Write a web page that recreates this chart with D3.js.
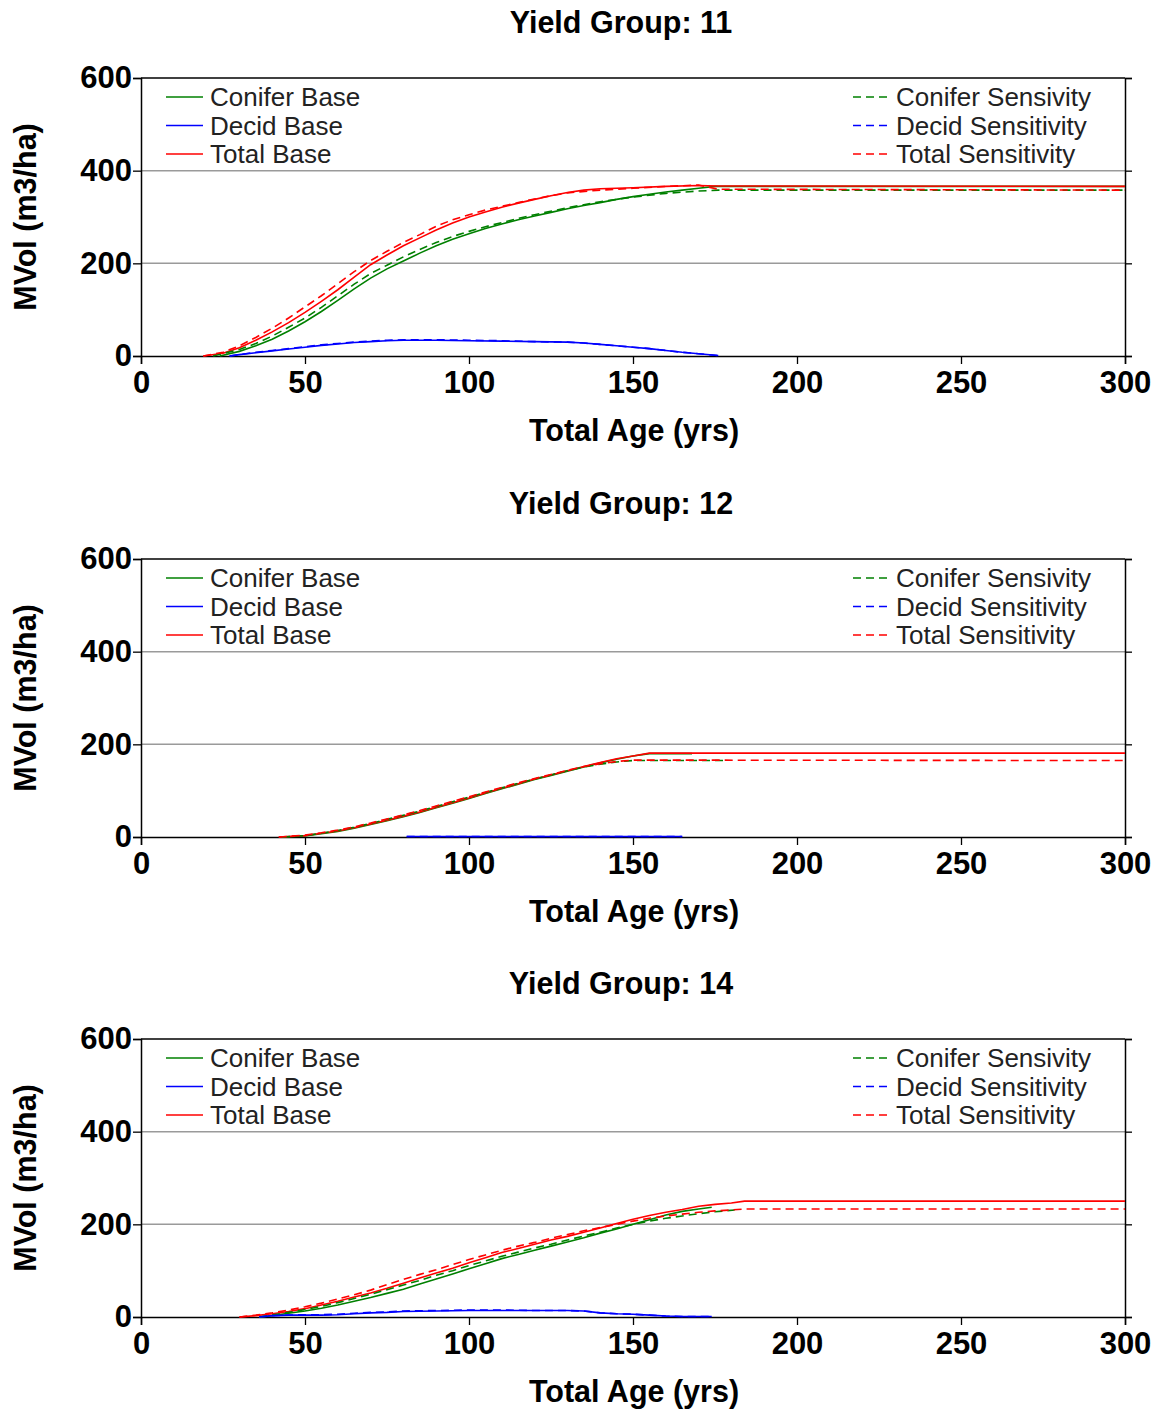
<!DOCTYPE html>
<html><head><meta charset="utf-8">
<script src="https://cdn.jsdelivr.net/npm/d3@7"></script>
<style>body{margin:0;background:#fff}svg{display:block}</style>
</head><body>
<script>
// ---------- DATA ----------
const groups = ["11", "12", "14"];
const seriesNames = ["Conifer Base","Decid Base","Total Base","Conifer Sensivity","Decid Sensitivity","Total Sensitivity"];
const xTicks = [0,50,100,150,200,250,300];
const yTicks = [0,200,400,600];

// Yield Group 11  ([age, MVol])
const yg11ConiferBase = [[24,0],[30,10],[35,22],[40,36],[45,54],[50,74],[55,96],[60,120],[65,145],[70,168],[75,188],[80,205],[85,222],[90,238],[95,252],[100,264],[105,275],[110,285],[115,294],[120,302],[125,310],[130,318],[135,325],[140,331],[145,338],[150,344],[155,349],[160,354],[165,358],[170,362],[175,366],[300,366]];
const yg11DecidBase = [[27,0],[30,3],[35,7],[40,11],[45,15],[50,19],[55,23],[60,26],[65,29],[70,31],[75,33],[80,34],[90,34],[100,33],[110,32],[120,31],[130,30],[135,28],[140,25],[145,22],[150,19],[155,16],[160,12],[165,8],[170,5],[176,1]];
const yg11TotalBase = [[19,0],[25,6],[30,18],[35,34],[40,52],[45,72],[50,94],[55,118],[60,143],[65,170],[70,197],[75,218],[80,238],[85,255],[90,272],[95,287],[100,300],[105,311],[110,321],[115,330],[120,338],[125,346],[130,353],[135,358],[140,361],[150,363],[160,366],[170,368],[176,367],[300,366]];
const yg11ConiferSens = [[22,0],[30,14],[35,27],[40,43],[45,62],[50,82],[55,105],[60,130],[65,155],[70,178],[75,196],[80,214],[85,230],[90,245],[95,258],[100,269],[105,279],[110,288],[115,297],[120,305],[130,320],[140,333],[150,343],[160,351],[170,356],[176,358],[300,358]];
const yg11DecidSens = [[27,0],[30,3],[35,8],[40,12],[45,16],[50,20],[55,24],[60,27],[65,30],[70,32],[75,34],[80,35],[90,35],[100,34],[110,33],[120,31],[130,30],[135,28],[140,25],[145,22],[150,19],[155,16],[160,12],[165,8],[170,5],[176,1]];
const yg11TotalSens = [[19,0],[25,8],[30,22],[35,40],[40,60],[45,82],[50,106],[55,130],[60,156],[65,182],[70,206],[75,226],[80,245],[85,262],[90,280],[95,294],[100,305],[105,315],[110,323],[115,331],[120,339],[125,346],[130,352],[140,358],[150,362],[160,366],[170,369],[176,360],[300,358]];

// Yield Group 12
const yg12ConiferBase = [[43,0],[50,2],[55,7],[60,12],[65,19],[70,27],[75,35],[80,44],[85,53],[90,63],[95,73],[100,83],[105,94],[110,104],[115,114],[120,124],[125,133],[130,142],[135,151],[140,160],[145,168],[150,175],[155,180],[168,180]];
const yg12DecidBase = [[81,1],[100,1],[120,1],[140,1],[165,1]];
const yg12TotalBase = [[42,0],[50,3],[55,8],[60,13],[65,20],[70,28],[75,36],[80,45],[85,54],[90,64],[95,74],[100,84],[105,95],[110,105],[115,115],[120,125],[125,134],[130,143],[135,152],[140,161],[145,169],[150,175],[155,181],[300,181]];
const yg12ConiferSens = [[43,0],[50,3],[55,8],[60,14],[65,21],[70,29],[75,38],[80,47],[85,56],[90,66],[95,76],[100,86],[105,96],[110,106],[115,116],[120,125],[125,134],[130,143],[135,151],[140,157],[145,162],[150,165],[178,165]];
const yg12DecidSens = [[81,1],[100,1],[120,1],[140,1],[165,1]];
const yg12TotalSens = [[42,0],[50,4],[55,9],[60,15],[65,22],[70,30],[75,39],[80,48],[85,57],[90,67],[95,77],[100,87],[105,97],[110,107],[115,117],[120,126],[125,135],[130,144],[135,152],[140,158],[145,163],[150,166],[300,165]];

// Yield Group 14
const yg14ConiferBase = [[36,0],[40,3],[45,8],[50,13],[55,19],[60,26],[65,34],[70,42],[75,51],[80,60],[85,71],[90,82],[95,93],[100,104],[105,115],[110,126],[115,135],[120,144],[125,153],[130,162],[135,171],[140,181],[145,190],[150,200],[155,210],[160,220],[165,228],[170,233],[174,237]];
const yg14DecidBase = [[36,0],[40,3],[45,4],[50,4],[55,4],[60,5],[65,7],[70,9],[75,10],[80,12],[90,13],[100,14],[110,14],[120,14],[130,14],[135,13],[140,9],[145,7],[150,6],[155,4],[160,2],[165,1],[174,1]];
const yg14TotalBase = [[30,0],[35,3],[40,7],[45,12],[50,18],[55,26],[60,34],[65,43],[70,52],[75,62],[80,73],[85,84],[90,95],[95,105],[100,117],[105,128],[110,139],[115,148],[120,157],[125,166],[130,174],[135,183],[140,192],[145,202],[150,211],[155,219],[160,226],[165,232],[170,239],[175,243],[180,246],[184,250],[300,250]];
const yg14ConiferSens = [[36,0],[40,4],[45,10],[50,16],[55,23],[60,31],[65,40],[70,49],[75,59],[80,69],[85,79],[90,90],[95,100],[100,111],[105,121],[110,131],[115,140],[120,149],[125,157],[130,166],[135,175],[140,183],[145,192],[150,200],[155,207],[160,213],[165,218],[170,223],[175,227],[181,231]];
const yg14DecidSens = [[36,0],[40,3],[45,4],[50,5],[55,5],[60,6],[65,8],[70,10],[75,11],[80,13],[90,14],[100,15],[110,15],[120,14],[130,14],[135,13],[140,9],[145,7],[150,6],[155,4],[160,2],[165,1],[174,1]];
const yg14TotalSens = [[30,0],[35,4],[40,9],[45,15],[50,22],[55,30],[60,39],[65,48],[70,58],[75,70],[80,81],[85,92],[90,102],[95,113],[100,124],[105,134],[110,144],[115,153],[120,161],[125,170],[130,178],[135,186],[140,193],[145,200],[150,207],[155,213],[160,218],[165,222],[170,226],[175,229],[180,231],[184,233],[300,233]];

const panelData = [
  [yg11ConiferBase, yg11DecidBase, yg11TotalBase, yg11ConiferSens, yg11DecidSens, yg11TotalSens],
  [yg12ConiferBase, yg12DecidBase, yg12TotalBase, yg12ConiferSens, yg12DecidSens, yg12TotalSens],
  [yg14ConiferBase, yg14DecidBase, yg14TotalBase, yg14ConiferSens, yg14DecidSens, yg14TotalSens]
];

// ---------- STYLE / LAYOUT ----------
const colors = ["#008000","#0000ff","#ff0000","#008000","#0000ff","#ff0000"];
const dashed = [false,false,false,true,true,true];
const W = 1156, H = 1410;
const left = 141, plotW = 984, plotH = 278;
const tops = [78, 559, 1039];
const boldFont = "'Liberation Sans', Arial, sans-serif";

const svg = d3.select("body").append("svg").attr("width", W).attr("height", H);

const x = d3.scaleLinear().domain([0,300]).range([left, left+plotW]);

groups.forEach((g, i) => {
  const top = tops[i];
  const y = d3.scaleLinear().domain([0,600]).range([top+plotH, top]);
  const gp = svg.append("g");

  // title
  gp.append("text").attr("x", 621).attr("y", top-45).attr("text-anchor","middle")
    .attr("font-family", boldFont).attr("font-weight","bold").attr("font-size", 30.5)
    .text("Yield Group: " + g);

  // gridlines
  gp.selectAll(".grid").data([200,400]).join("line")
    .attr("x1", left).attr("x2", left+plotW)
    .attr("y1", d=>y(d)).attr("y2", d=>y(d))
    .attr("stroke","#9a9a9a").attr("stroke-width",1.5);

  // top frame
  gp.append("line").attr("x1",left).attr("x2",left+plotW).attr("y1",top).attr("y2",top)
    .attr("stroke","#000").attr("stroke-width",1.5);

  // x axis
  const xa = gp.append("g").attr("transform",`translate(0,${top+plotH})`);
  xa.call(d3.axisBottom(x).tickValues(d3.range(0,301,5)).tickSize(4).tickFormat(""));
  xa.call(d3.axisBottom(x).tickValues(xTicks).tickSize(8).tickFormat(d3.format("d")).tickPadding(7));
  xa.selectAll("path").attr("stroke","#000").attr("stroke-width",1.5);
  xa.selectAll("line").attr("stroke","#000").attr("stroke-width",1.3);
  xa.selectAll("text").attr("font-family", boldFont).attr("font-weight","bold")
    .attr("font-size",31).attr("fill","#000");

  // y axis left
  const ya = gp.append("g").attr("transform",`translate(${left},0)`);
  ya.call(d3.axisLeft(y).tickValues(d3.range(0,601,20)).tickSize(4).tickFormat(""));
  ya.call(d3.axisLeft(y).tickValues(yTicks).tickSize(8).tickFormat(d3.format("d")).tickPadding(1));
  ya.selectAll("path").attr("stroke","#000").attr("stroke-width",1.5);
  ya.selectAll("line").attr("stroke","#000").attr("stroke-width",1.3);
  ya.selectAll("text").attr("font-family", boldFont).attr("font-weight","bold")
    .attr("font-size",31).attr("fill","#000");

  // y axis right
  const yr = gp.append("g").attr("transform",`translate(${left+plotW},0)`);
  yr.call(d3.axisRight(y).tickValues(d3.range(0,601,20)).tickSize(4).tickFormat(""));
  yr.call(d3.axisRight(y).tickValues(yTicks).tickSize(7).tickFormat(""));
  yr.selectAll("path").attr("stroke","#000").attr("stroke-width",1.5);
  yr.selectAll("line").attr("stroke","#000").attr("stroke-width",1.3);

  // axis labels
  gp.append("text").attr("x", 634).attr("y", top+plotH+85).attr("text-anchor","middle")
    .attr("font-family", boldFont).attr("font-weight","bold").attr("font-size",30.5)
    .text("Total Age (yrs)");
  gp.append("text").attr("transform",`translate(36,${top+plotH/2}) rotate(-90)`)
    .attr("text-anchor","middle")
    .attr("font-family", boldFont).attr("font-weight","bold").attr("font-size",30.5)
    .text("MVol (m3/ha)");

  // series lines
  const line = d3.line().x(d=>x(d[0])).y(d=>y(d[1]));
  const plotG = gp.append("g");
  panelData[i].forEach((arr, k) => {
    plotG.append("path").datum(arr).attr("d", line)
      .attr("fill","none").attr("stroke", colors[k]).attr("stroke-width",1.6)
      .attr("stroke-dasharray", dashed[k] ? "8,5" : null);
  });

  // legends
  const rowY = [19, 47.5, 76];
  [0,1,2].forEach(k => {
    gp.append("line").attr("x1",166).attr("x2",203).attr("y1",top+rowY[k]).attr("y2",top+rowY[k])
      .attr("stroke",colors[k]).attr("stroke-width",1.6);
    gp.append("text").attr("x",210).attr("y",top+rowY[k]+9).attr("font-family","'Liberation Sans', Arial, sans-serif")
      .attr("font-size",26).attr("fill","#222").text(seriesNames[k]);
  });
  [3,4,5].forEach((k, j) => {
    gp.append("line").attr("x1",853).attr("x2",890).attr("y1",top+rowY[j]).attr("y2",top+rowY[j])
      .attr("stroke",colors[k]).attr("stroke-width",1.6).attr("stroke-dasharray","8,5");
    gp.append("text").attr("x",896).attr("y",top+rowY[j]+9).attr("font-family","'Liberation Sans', Arial, sans-serif")
      .attr("font-size",26).attr("fill","#222").text(seriesNames[k]);
  });
});
</script>
</body></html>
